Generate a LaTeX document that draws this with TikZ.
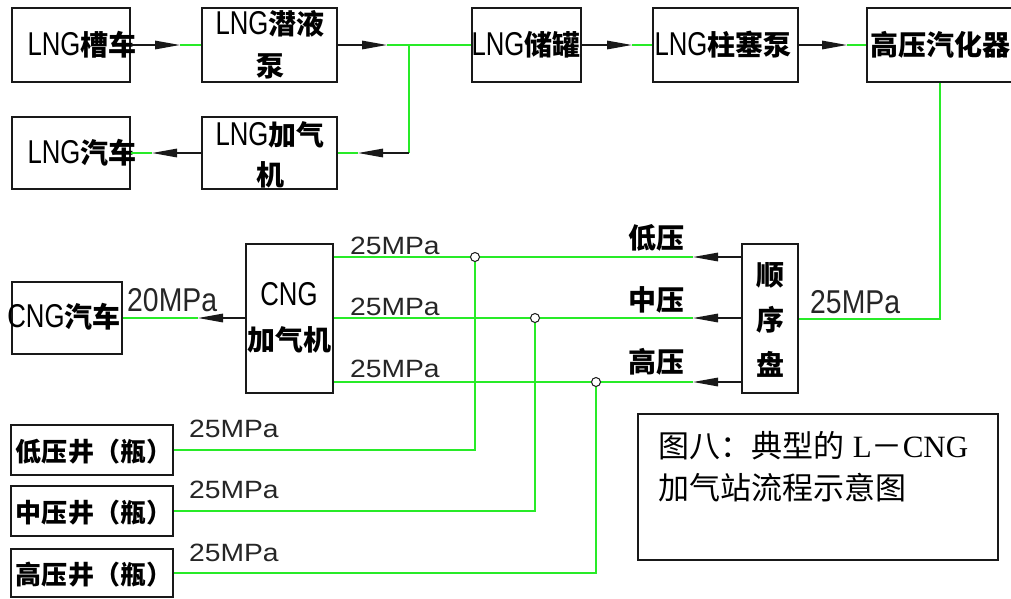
\documentclass[tikz,border=0pt]{standalone}
\usepackage{graphicx}
\usepackage{fontspec}
\setmainfont{Liberation Sans}
\newfontfamily\cjk{Noto Sans CJK SC}
\newfontfamily\serifl{Liberation Serif}
\usetikzlibrary{arrows.meta}
\definecolor{pipe}{RGB}{40,235,40}
\definecolor{edge}{RGB}{25,25,25}
\newcommand\lat[1]{{\fontsize{33}{33}\selectfont\scalebox{0.78}[1]{#1}}}
\newcommand\hz[1]{{\cjk\bfseries #1}}
\newcommand\mpas[1]{{\fontsize{25}{25}\selectfont\scalebox{1.13}[1]{#1}}}
\newcommand\mpal[1]{{\fontsize{33}{33}\selectfont\scalebox{0.86}[1]{#1}}}
\tikzset{
  box/.style={draw=edge, line width=1.5pt, rectangle, inner sep=0pt},
  txt/.style={inner sep=0pt, align=center, font=\fontsize{28}{42}\selectfont, text=black},
  wtxt/.style={txt, font=\fontsize{26}{30}\selectfont},
  grn/.style={draw=pipe, line width=2pt},
  blk/.style={draw=edge, line width=1.5pt, -{Triangle[length=25pt,width=8.5pt]}},
  jn/.style={circle, draw=edge, fill=white, line width=1pt, minimum size=9pt, inner sep=0pt},
  lbl/.style={inner sep=0pt, anchor=base west, text=black!85}
}
\begin{document}
\begin{tikzpicture}[x=1pt,y=-1pt]
\fill[white] (0,0) rectangle (1011,598);
\useasboundingbox (0,0) rectangle (1011,598);

% ---- boxes
\node[box, minimum width=118pt, minimum height=74pt] (truck)   at (71,45) {};
\node[box, minimum width=135pt, minimum height=74pt] (sub)     at (269.5,45) {};
\node[box, minimum width=109pt, minimum height=74pt] (tank)    at (526.5,45) {};
\node[box, minimum width=145pt, minimum height=74pt] (plunger) at (725.5,45) {};
\node[box, minimum width=146pt, minimum height=74pt] (vap)     at (940,45) {};
\node[box, minimum width=118pt, minimum height=72pt] (lngcar)  at (71,153) {};
\node[box, minimum width=135pt, minimum height=72pt] (lngdisp) at (269.5,153) {};
\node[box, minimum width=110pt, minimum height=72pt] (cngcar)  at (67,318) {};
\node[box, minimum width=87pt, minimum height=149pt] (cngdisp) at (289.5,318.5) {};
\node[box, minimum width=56pt, minimum height=149pt] (seq)     at (770,318.5) {};
\node[box, minimum width=162pt, minimum height=50pt] (wlow)    at (92,450) {};
\node[box, minimum width=162pt, minimum height=50pt] (wmid)    at (92,511) {};
\node[box, minimum width=162pt, minimum height=48pt] (whigh)   at (92,573) {};
\node[box, minimum width=360pt, minimum height=146pt] (cap)    at (818,487) {};

% ---- box texts
\node[txt] (truck-t)   at (82,45)  {\lat{LNG}\hz{槽车}};
\node[txt, font=\fontsize{28}{42}\selectfont] (sub-t) at (270,45) {\lat{LNG}\hz{潜液}\\\hz{泵}};
\node[txt] (tank-t)    at (526,45) {\lat{LNG}\hz{储罐}};
\node[txt] (plunger-t) at (723,45) {\lat{LNG}\hz{柱塞泵}};
\node[txt] (vap-t)     at (940,45) {\hz{高压汽化器}};
\node[txt] (lngcar-t)  at (82,153) {\lat{LNG}\hz{汽车}};
\node[txt, font=\fontsize{28}{40}\selectfont] (lngdisp-t) at (270,155) {\lat{LNG}\hz{加气}\\\hz{机}};
\node[txt] (cngcar-t)  at (64,317) {\lat{CNG}\hz{汽车}};
\node[txt, font=\fontsize{28}{45}\selectfont] (cngdisp-t) at (289,318) {\lat{CNG}\\\hz{加气机}};
\node[txt, font=\fontsize{28}{45}\selectfont] (seq-t) at (770,320) {\hz{顺}\\\hz{序}\\\hz{盘}};
\node[wtxt] (wlow-t)  at (94,452) {\hz{低压井（瓶）}};
\node[wtxt] (wmid-t)  at (94,513) {\hz{中压井（瓶）}};
\node[wtxt] (whigh-t) at (94,575) {\hz{高压井（瓶）}};
\node[inner sep=0pt, anchor=north west, align=left, font=\fontsize{31}{42}\selectfont] (cap-t) at (658,431)
  {{\cjk 图八：典型的}\ {\serifl L}{\cjk －}{\serifl CNG}\\{\cjk 加气站流程示意图}};

% ---- LNG line
\coordinate (t1) at (180,45);
\draw[blk] (truck.east) -- (t1);
\draw[grn] (t1) -- (sub.west);
\coordinate (t2) at (387,45);
\draw[blk] (sub.east) -- (t2);
\draw[grn] (t2) -- (tank.west);
\coordinate (J) at (409,45);
\coordinate (Jd) at (409,153);
\coordinate (t3) at (358,153);
\draw[grn] (J) -- (Jd);
\draw[blk] (Jd) -- (t3);
\draw[grn] (t3) -- (lngdisp.east);
\coordinate (t4) at (152,153);
\draw[blk] (lngdisp.west) -- (t4);
\draw[grn] (t4) -- (lngcar.east);
\coordinate (t5) at (632,45);
\draw[blk] (tank.east) -- (t5);
\draw[grn] (t5) -- (plunger.west);
\coordinate (t6) at (847,45);
\draw[blk] (plunger.east) -- (t6);
\draw[grn] (t6) -- (vap.west);

% ---- vaporizer to sequence panel
\draw[grn] (vap.south) |- (seq.east);
\node[lbl] (p-seq) at (810,313) {\mpal{25MPa}};

% ---- sequence panel to dispenser
\coordinate (c1) at (475,257);
\coordinate (c2) at (535,318);
\coordinate (c3) at (596,382);
\coordinate (a1) at (693,257);
\coordinate (a2) at (693,318);
\coordinate (a3) at (693,382);
\draw[blk] (seq.west |- a1) -- (a1);
\draw[blk] (seq.west |- a2) -- (a2);
\draw[blk] (seq.west |- a3) -- (a3);
\draw[grn] (a1) -- (cngdisp.east |- a1);
\draw[grn] (a2) -- (cngdisp.east |- a2);
\draw[grn] (a3) -- (cngdisp.east |- a3);
\node[txt] (l-low)  at (656,238) {\hz{低压}};
\node[txt] (l-mid)  at (656,300) {\hz{中压}};
\node[txt] (l-high) at (656,362) {\hz{高压}};
\node[lbl] (p1) at (350,254) {\mpas{25MPa}};
\node[lbl] (p2) at (350,315) {\mpas{25MPa}};
\node[lbl] (p3) at (350,377) {\mpas{25MPa}};

% ---- wells
\draw[grn] (wlow.east) -| (c1);
\draw[grn] (wmid.east) -| (c2);
\draw[grn] (whigh.east) -| (c3);
\node[lbl] (pw1) at (189,437) {\mpas{25MPa}};
\node[lbl] (pw2) at (189,498) {\mpas{25MPa}};
\node[lbl] (pw3) at (189,561) {\mpas{25MPa}};

\node[jn] (c1n) at (c1) {};
\node[jn] (c2n) at (c2) {};
\node[jn] (c3n) at (c3) {};

% ---- dispenser to CNG car
\coordinate (t7) at (198,318);
\draw[blk] (cngdisp.west |- t7) -- (t7);
\draw[grn] (t7) -- (cngcar.east);
\node[lbl] (p20) at (127,311) {\mpal{20MPa}};
\end{tikzpicture}
\end{document}
